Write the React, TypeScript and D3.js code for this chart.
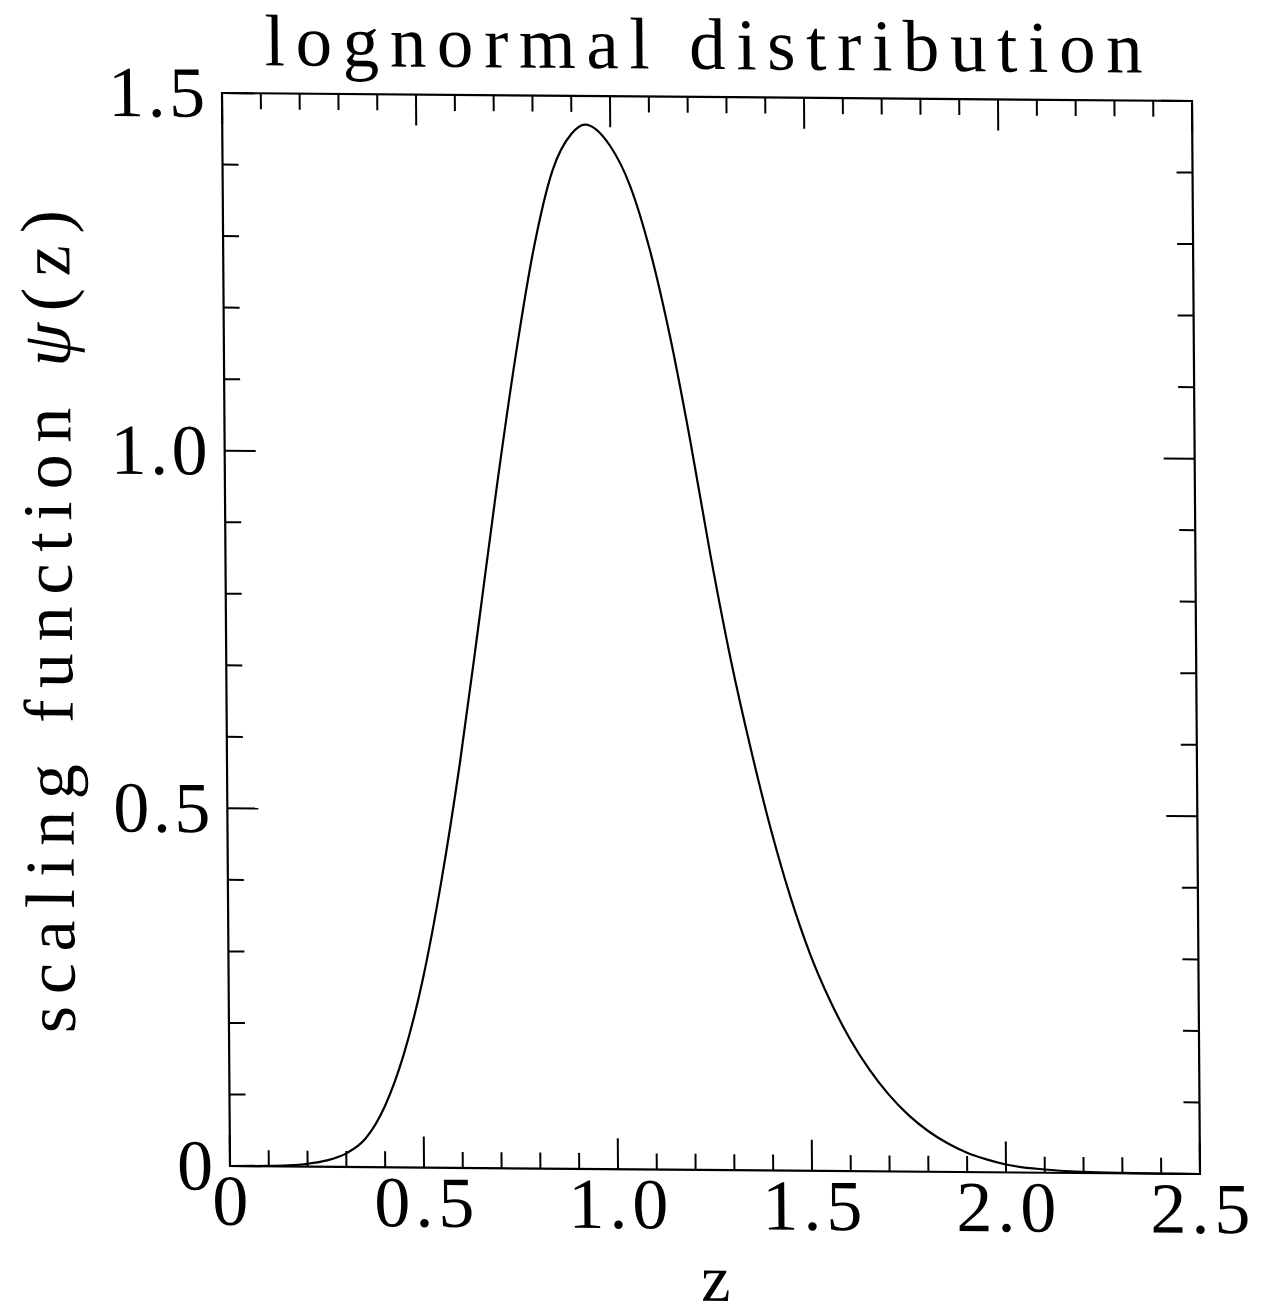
import React from 'react';
import * as d3 from 'd3';

const zValues = [0, 0.1, 0.15, 0.2, 0.25, 0.3, 0.35, 0.4, 0.45, 0.5, 0.55, 0.6, 0.65, 0.7, 0.75, 0.8, 0.85, 0.9, 0.935, 1.0, 1.05, 1.1, 1.15, 1.2, 1.25, 1.3, 1.35, 1.4, 1.45, 1.5, 1.55, 1.6, 1.65, 1.7, 1.75, 1.8, 1.85, 1.9, 1.95, 2.0, 2.1, 2.2, 2.3, 2.4, 2.5];
const psiValues = [0, 0.0005, 0.0015, 0.004, 0.009, 0.019, 0.04, 0.085, 0.158, 0.262, 0.4, 0.565, 0.755, 0.95, 1.13, 1.285, 1.395, 1.447, 1.46, 1.43, 1.375, 1.285, 1.165, 1.02, 0.86, 0.715, 0.59, 0.478, 0.382, 0.302, 0.238, 0.185, 0.142, 0.107, 0.079, 0.057, 0.04, 0.027, 0.018, 0.011, 0.0045, 0.0017, 0.0006, 0.0002, 0];

const xTickLabels = ['0', '0.5', '1.0', '1.5', '2.0', '2.5'];
const xTickValues = [0, 0.5, 1.0, 1.5, 2.0, 2.5];
const yTickLabels = ['0', '0.5', '1.0', '1.5'];
const yTickValues = [0, 0.5, 1.0, 1.5];
const titleText = 'lognormal distribution';
const yLabelText = 'scaling function ';
const yLabelSymbol = 'ψ';
const yLabelArg = '(z)';
const xLabelText = 'z';

const FONT = "'Liberation Serif', 'Times New Roman', serif";

export default function App() {
  const L = 222, R = 1192, T = 93, B = 1166;
  const x = d3.scaleLinear().domain([0, 2.5]).range([L, R]);
  const y = d3.scaleLinear().domain([0, 1.5]).range([B, T]);
  const a = 0.00746, b = 0.00825;
  const skew = `matrix(1, ${b}, ${a}, 1, ${-a * T}, ${-b * L})`;

  const line = d3
    .line<number>()
    .x((_, i) => x(zValues[i]))
    .y((d) => y(d))
    .curve(d3.curveMonotoneX);

  const minorX = d3.range(0, 26).map((i) => i / 10);
  const minorY = d3.range(0, 16).map((i) => i / 10);
  const isMajor = (v: number) => Math.abs(v * 2 - Math.round(v * 2)) < 1e-6;
  const MAJ = 31, MIN = 16;

  return (
    <svg
      width={1270}
      height={1314}
      style={{ position: 'absolute', left: 0, top: 0, background: '#fff' }}
    >
      <rect x={0} y={0} width={1270} height={1314} fill="#fff" />
      <g transform={skew} fontFamily={FONT} fill="#000">
        <text x={265} y={65} fontSize={73} textLength={878} lengthAdjust="spacing">
          {titleText}
        </text>

        <rect x={L} y={T} width={R - L} height={B - T} fill="none" stroke="#000" strokeWidth={2.2} />

        {minorX.map((v) => {
          const len = isMajor(v) ? MAJ : MIN;
          return (
            <g key={'xt' + v}>
              <line x1={x(v)} x2={x(v)} y1={B} y2={B - len} stroke="#000" strokeWidth={2} />
              <line x1={x(v)} x2={x(v)} y1={T} y2={T + len} stroke="#000" strokeWidth={2} />
            </g>
          );
        })}
        {minorY.map((v) => {
          const len = isMajor(v) ? MAJ : MIN;
          return (
            <g key={'yt' + v}>
              <line x1={L} x2={L + len} y1={y(v)} y2={y(v)} stroke="#000" strokeWidth={2} />
              <line x1={R} x2={R - len} y1={y(v)} y2={y(v)} stroke="#000" strokeWidth={2} />
            </g>
          );
        })}

        {xTickValues.map((v, i) => (
          <text
            key={'xl' + v}
            x={x(v)}
            y={B + 59}
            fontSize={72}
            textAnchor="middle"
            {...(xTickLabels[i].length > 1 ? { textLength: 100, lengthAdjust: 'spacing' } : {})}
          >
            {xTickLabels[i]}
          </text>
        ))}
        {yTickValues.map((v, i) => (
          <text
            key={'yl' + v}
            x={L - 17}
            y={y(v) + 24}
            fontSize={72}
            textAnchor="end"
            {...(yTickLabels[i].length > 1 ? { textLength: 97, lengthAdjust: 'spacing' } : {})}
          >
            {yTickLabels[i]}
          </text>
        ))}

        <path d={line(psiValues) || ''} fill="none" stroke="#000" strokeWidth={2.2} />

        <text
          transform={`translate(68, 623) rotate(-90)`}
          x={0}
          y={0}
          fontSize={70}
          textAnchor="middle"
          textLength={823}
          lengthAdjust="spacing"
        >
          {yLabelText}
          <tspan fontStyle="italic">{yLabelSymbol}</tspan>
          {yLabelArg}
        </text>

        <text x={x(1.25)} y={1297} fontSize={66} textAnchor="middle">
          {xLabelText}
        </text>
      </g>
    </svg>
  );
}
